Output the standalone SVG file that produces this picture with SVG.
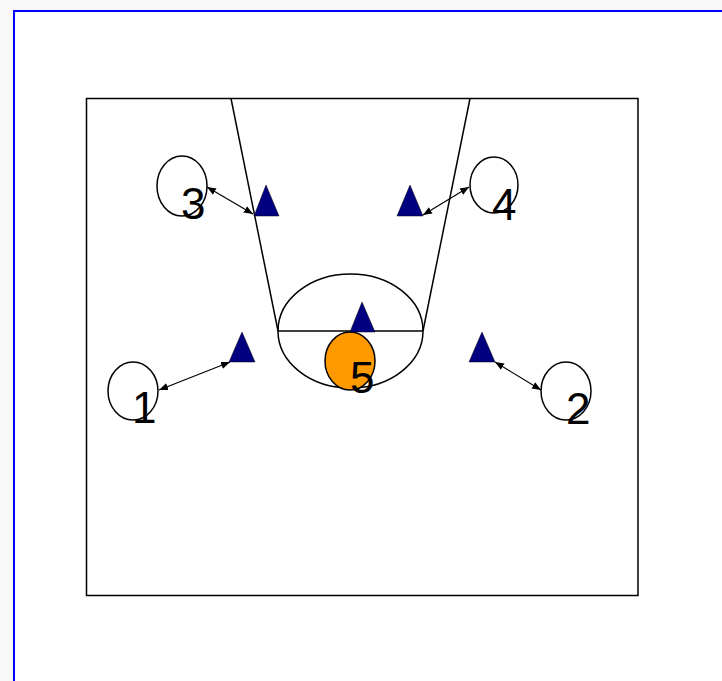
<svg xmlns="http://www.w3.org/2000/svg" width="722" height="681" viewBox="0 0 722 681">
<defs>
<style>
.ln{fill:none;stroke:#000;stroke-width:1.5}
.pl{fill:#fff;stroke:#000;stroke-width:1.5}
.df{fill:#000080;stroke:#000;stroke-width:0.5}
.ar{fill:none;stroke:#000;stroke-width:1.2;marker-start:url(#ah);marker-end:url(#ah)}
.lb{font-family:"Liberation Sans",Arial,sans-serif;font-size:44px;fill:#000}
</style>
<marker id="ah" viewBox="0 0 10 10" refX="10" refY="5" markerWidth="9" markerHeight="9" markerUnits="userSpaceOnUse" orient="auto-start-reverse">
<path d="M0,1 L10,5 L0,9 Z" fill="#000"/>
</marker>
</defs>
<rect x="0" y="0" width="722" height="681" fill="#f9f9f9"/>
<rect x="14" y="11" width="720" height="680" fill="#fff" stroke="#0000ff" stroke-width="2"/>
<g id="court">
<rect x="86.5" y="98.5" width="551.5" height="497" class="ln"/>
<line x1="231" y1="98.5" x2="278" y2="331" class="ln"/>
<line x1="470" y1="98.5" x2="423" y2="331" class="ln"/>
<ellipse cx="350.5" cy="331" rx="72.5" ry="57" class="ln"/>
<line x1="278" y1="331" x2="423" y2="331" class="ln"/>
</g>
<g id="p3"><ellipse cx="182" cy="186" rx="25" ry="30" class="pl"/><text x="181" y="219" class="lb">3</text></g>
<g id="p4"><ellipse cx="494" cy="185" rx="24" ry="28" class="pl"/><text x="492" y="220" class="lb">4</text></g>
<g id="p1"><ellipse cx="133" cy="391" rx="25" ry="29" class="pl"/><text x="132" y="423" class="lb">1</text></g>
<g id="p2"><ellipse cx="566" cy="391" rx="25" ry="29" class="pl"/><text x="566" y="424" class="lb">2</text></g>
<g id="p5"><ellipse cx="350" cy="361" rx="25" ry="29" fill="#ff9900" stroke="#000" stroke-width="1.5"/><text x="350" y="393" class="lb">5</text></g>
<g id="d3"><polygon points="266,185 279,216 254,216" class="df"/></g>
<g id="d4"><polygon points="410,185 423,216 397,216" class="df"/></g>
<g id="d5"><polygon points="362,302 375,332 350,332" class="df"/></g>
<g id="d1"><polygon points="242,332 255,362 229,362" class="df"/></g>
<g id="d2"><polygon points="482,332 495,362 469,362" class="df"/></g>
<g id="connectors">
<line x1="207" y1="187" x2="253" y2="214" class="ar"/>
<line x1="423" y1="215" x2="469" y2="187" class="ar"/>
<line x1="159" y1="390" x2="230" y2="362" class="ar"/>
<line x1="495" y1="362" x2="541" y2="390" class="ar"/>
</g>
</svg>
